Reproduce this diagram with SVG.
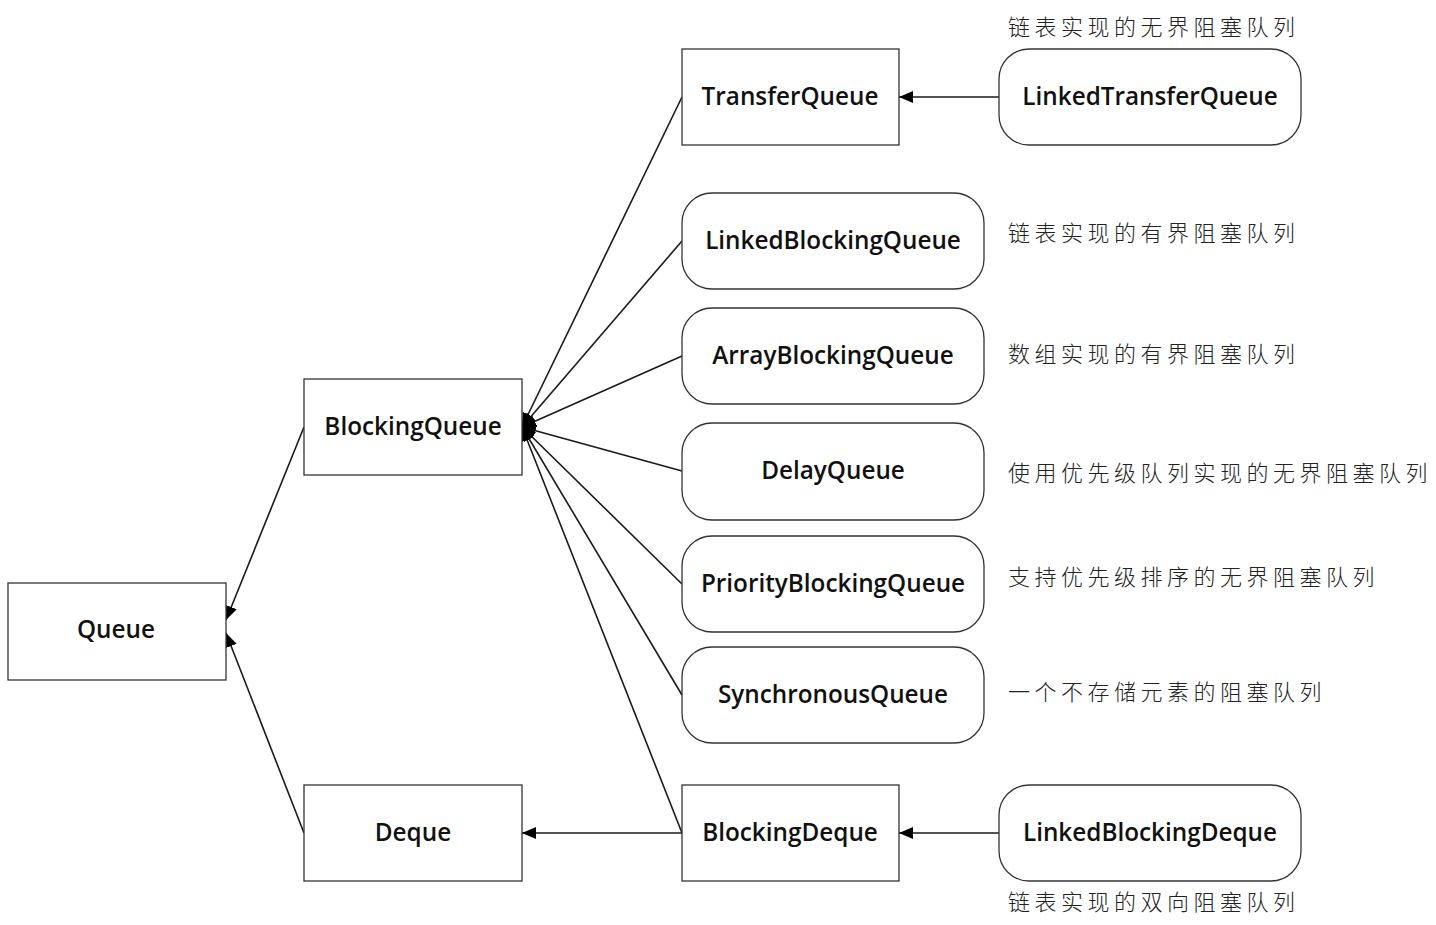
<svg xmlns="http://www.w3.org/2000/svg" width="1436" height="925" viewBox="0 0 1436 925">
<defs>
<marker id="arr" viewBox="0 0 14 12" refX="14" refY="6" markerWidth="14" markerHeight="12" markerUnits="userSpaceOnUse" orient="auto">
<path d="M0,0 L14,6 L0,12 Z" fill="#000"/>
</marker>
<style>
.box{fill:#fff;stroke:#333;stroke-width:1.3}
.lbl{font-family:"Open Sans","Noto Sans",sans-serif;font-weight:600;font-size:24.3px;fill:#111;text-anchor:middle}
.note{font-family:"Noto Sans CJK SC",sans-serif;font-weight:300;font-size:22px;fill:#222;letter-spacing:4.5px}
.edge{fill:none;stroke:#1a1a1a;stroke-width:1.6;marker-end:url(#arr)}
</style>
</defs>
<rect width="1436" height="925" fill="#fff"/>
<g id="connectors">
<line class="edge" x1="304" y1="427" x2="226" y2="620"/>
<line class="edge" x1="304" y1="833" x2="226" y2="633"/>
<line class="edge" x1="682" y1="97" x2="522" y2="427"/>
<line class="edge" x1="682" y1="241" x2="522" y2="427"/>
<line class="edge" x1="682" y1="356" x2="522" y2="427"/>
<line class="edge" x1="682" y1="471" x2="522" y2="427"/>
<line class="edge" x1="682" y1="584" x2="522" y2="427"/>
<line class="edge" x1="682" y1="695" x2="522" y2="427"/>
<line class="edge" x1="682" y1="833" x2="522" y2="427"/>
<line class="edge" x1="682" y1="833" x2="522" y2="833"/>
<line class="edge" x1="999" y1="97" x2="899" y2="97"/>
<line class="edge" x1="999" y1="833" x2="899" y2="833"/>
</g>
<g id="Queue"><rect class="box" x="8" y="583" width="218" height="97"/><text class="lbl" x="116" y="638">Queue</text></g>
<g id="BlockingQueue"><rect class="box" x="304" y="379" width="218" height="96"/><text class="lbl" x="413" y="435">BlockingQueue</text></g>
<g id="Deque"><rect class="box" x="304" y="785" width="218" height="96"/><text class="lbl" x="413" y="841">Deque</text></g>
<g id="TransferQueue"><rect class="box" x="682" y="49" width="217" height="96"/><text class="lbl" x="790" y="105">TransferQueue</text></g>
<g id="LinkedTransferQueue"><rect class="box" x="999" y="49" width="302" height="96" rx="30"/><text class="lbl" x="1150" y="105">LinkedTransferQueue</text></g>
<g id="LinkedBlockingQueue"><rect class="box" x="682" y="193" width="302" height="96" rx="30"/><text class="lbl" x="833" y="249">LinkedBlockingQueue</text></g>
<g id="ArrayBlockingQueue"><rect class="box" x="682" y="308" width="302" height="96" rx="30"/><text class="lbl" x="833" y="364">ArrayBlockingQueue</text></g>
<g id="DelayQueue"><rect class="box" x="682" y="423" width="302" height="97" rx="30"/><text class="lbl" x="833" y="479">DelayQueue</text></g>
<g id="PriorityBlockingQueue"><rect class="box" x="682" y="536" width="302" height="96" rx="30"/><text class="lbl" x="833" y="592">PriorityBlockingQueue</text></g>
<g id="SynchronousQueue"><rect class="box" x="682" y="647" width="302" height="96" rx="30"/><text class="lbl" x="833" y="703">SynchronousQueue</text></g>
<g id="BlockingDeque"><rect class="box" x="682" y="785" width="217" height="96"/><text class="lbl" x="790" y="841">BlockingDeque</text></g>
<g id="LinkedBlockingDeque"><rect class="box" x="999" y="785" width="302" height="96" rx="30"/><text class="lbl" x="1150" y="841">LinkedBlockingDeque</text></g>
<g id="notes">
<text class="note" x="1008" y="35">链表实现的无界阻塞队列</text>
<text class="note" x="1008" y="241">链表实现的有界阻塞队列</text>
<text class="note" x="1008" y="362">数组实现的有界阻塞队列</text>
<text class="note" x="1008" y="481">使用优先级队列实现的无界阻塞队列</text>
<text class="note" x="1008" y="585">支持优先级排序的无界阻塞队列</text>
<text class="note" x="1008" y="700">一个不存储元素的阻塞队列</text>
<text class="note" x="1008" y="910">链表实现的双向阻塞队列</text>
</g>
</svg>
